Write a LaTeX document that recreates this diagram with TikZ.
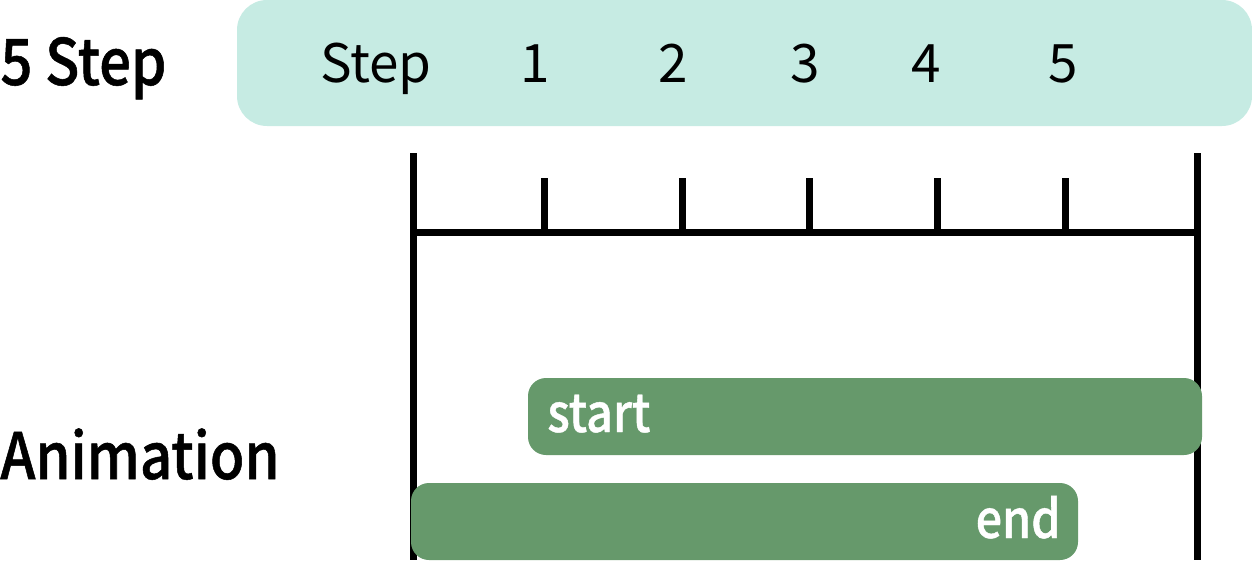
\documentclass[tikz,border=0pt]{standalone}
\usepackage{fontspec}
\setmainfont{Noto Sans CJK KR}
\newfontfamily\headfont[FakeStretch=0.88,FakeBold=0.8]{Noto Sans CJK KR Medium}
\usetikzlibrary{positioning}
\definecolor{stepmint}{HTML}{C6EBE3}
\definecolor{animgreen}{HTML}{66996B}

\begin{document}
\begin{tikzpicture}[x=0.5pt,y=-0.5pt,
    title/.style={anchor=base west, inner sep=0pt, font=\fontsize{32}{32}\selectfont\headfont},
    steplabel/.style={anchor=base, inner sep=0pt, font=\fontsize{26.5}{26.5}\selectfont},
    axis/.style={line width=3.5pt},
    bar/.style={fill=animgreen, rounded corners=9pt},
    barlabel/.style={inner sep=0pt, text=white, font=\fontsize{26.5}{26.5}\selectfont\headfont}]
\useasboundingbox (0,0) rectangle (1252,568);
\def\axisy{232};
\def\ticktop{178};

% header band
\fill[stepmint, rounded corners=15pt] (237,0) rectangle (1252,126);
\node[title] (steptitle) at (0,85) {5 Step};
\node[steplabel] (stepword) at (376,82) {Step};

% time line
\coordinate (ltop) at (413.5,153);
\coordinate (lbot) at (413.5,560);
\coordinate (rtop) at (1197.5,153);
\coordinate (rbot) at (1197.5,560);
\draw[axis] (ltop) -- (lbot);
\draw[axis] (rtop) -- (rbot);
\draw[axis] (413.5,\axisy) -- (1197.5,\axisy);

\foreach \tx/\lx/\n in {544/535/1, 682/673/2, 809/805/3, 937/926/4, 1065/1063/5}{
      \node[steplabel] (num\n) at (\lx,82) {\n};
      \draw[axis] (\tx,\axisy) -- (\tx,\ticktop); % tick for step \n
      }

% animation bars
\node[title] (animtitle) at (0,479) {Animation};
\fill[bar] (528,378) rectangle (1202,455);
\node[barlabel, anchor=base west] (startlbl) at (547,432) {start};
\fill[bar] (411,483) rectangle (1078,560);
\node[barlabel, anchor=base east] (endlbl) at (1061,538) {end};
\end{tikzpicture}
\end{document}
